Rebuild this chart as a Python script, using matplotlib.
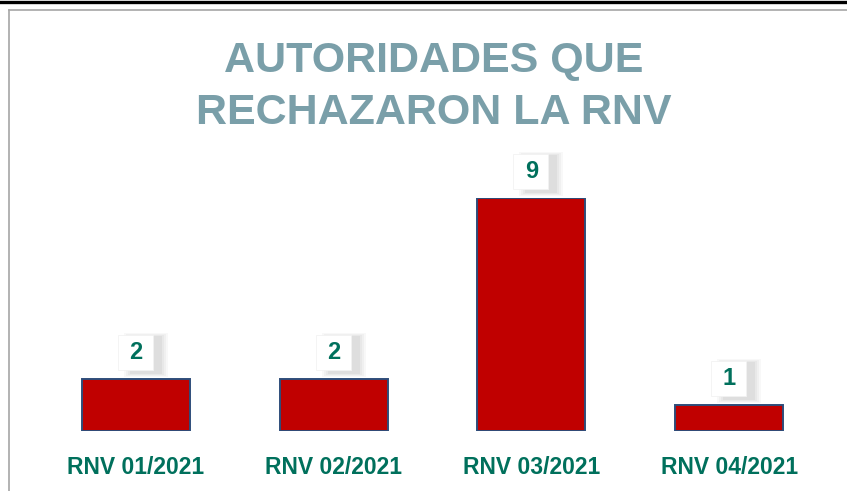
import numpy as np
import matplotlib
matplotlib.use("Agg")
import matplotlib.pyplot as plt
from matplotlib.patches import Rectangle
from matplotlib.lines import Line2D

categorias = ["RNV 01/2021", "RNV 02/2021", "RNV 03/2021", "RNV 04/2021"]
valores = [2, 2, 9, 1]
titulo = "AUTORIDADES QUE\nRECHAZARON LA RNV"

fuente = ["Liberation Sans Narrow", "Liberation Sans", "DejaVu Sans"]
verde = "#00705c"

fig = plt.figure(figsize=(8.47, 4.91), dpi=100)

# marco de la diapositiva
fig.add_artist(Line2D([0, 1], [1 - 1.5/491, 1 - 1.5/491], color="black", lw=2.4))
fig.add_artist(Line2D([8.5/847, 1], [1 - 9.5/491, 1 - 9.5/491], color="#a6a6a6", lw=1.2))
fig.add_artist(Line2D([8.5/847, 8.5/847], [0, 1 - 9.5/491], color="#a6a6a6", lw=1.2))

ax = fig.add_axes([37.2/847, 1 - 431/491, 790.7/847, 233/491])
x = np.arange(len(categorias))
ax.set_xlim(-0.5, 3.5)
ax.set_ylim(0, 9)
ax.axis("off")

# pixeles -> unidades de datos
px_x = 4 / 790.7
px_y = 9 / 233.0

# recuadros de las etiquetas con sombra difusa
for xi, v in zip(x, valores):
    for k, a in enumerate([0.05, 0.06, 0.07, 0.09]):
        ax.add_patch(Rectangle((xi - (12 - 2*k) * px_x, v + (2 + k) * px_y),
                               (44 - 4*k) * px_x, (44 - 2*k) * px_y,
                               fc="#808080", ec="none", alpha=a, zorder=1,
                               clip_on=False))
    ax.add_patch(Rectangle((xi - 18 * px_x, v + 9 * px_y), 35 * px_x, 35 * px_y,
                           fc="white", ec="#f2f2f2", lw=0.6, zorder=2,
                           clip_on=False))

ax.bar(x, valores, width=0.546, color="#c00000", edgecolor="#2e4d7a",
       linewidth=1.4, zorder=3)

for xi, v in zip(x, valores):
    ax.text(xi, v + 27 * px_y, str(v), ha="center", va="center", fontsize=17,
            fontweight="bold", family=fuente, color=verde, zorder=4, clip_on=False)
    ax.text(xi, -36 * px_y, categorias[xi], ha="center", va="center", fontsize=16.5,
            fontweight="bold", family=fuente, color=verde, clip_on=False)

fig.text(434/847, 1 - 87/491, titulo, ha="center", va="center", fontsize=31,
         fontweight="bold", family=fuente, color="#7a9fa9", linespacing=1.4)

fig.savefig("out.png", dpi=100)
